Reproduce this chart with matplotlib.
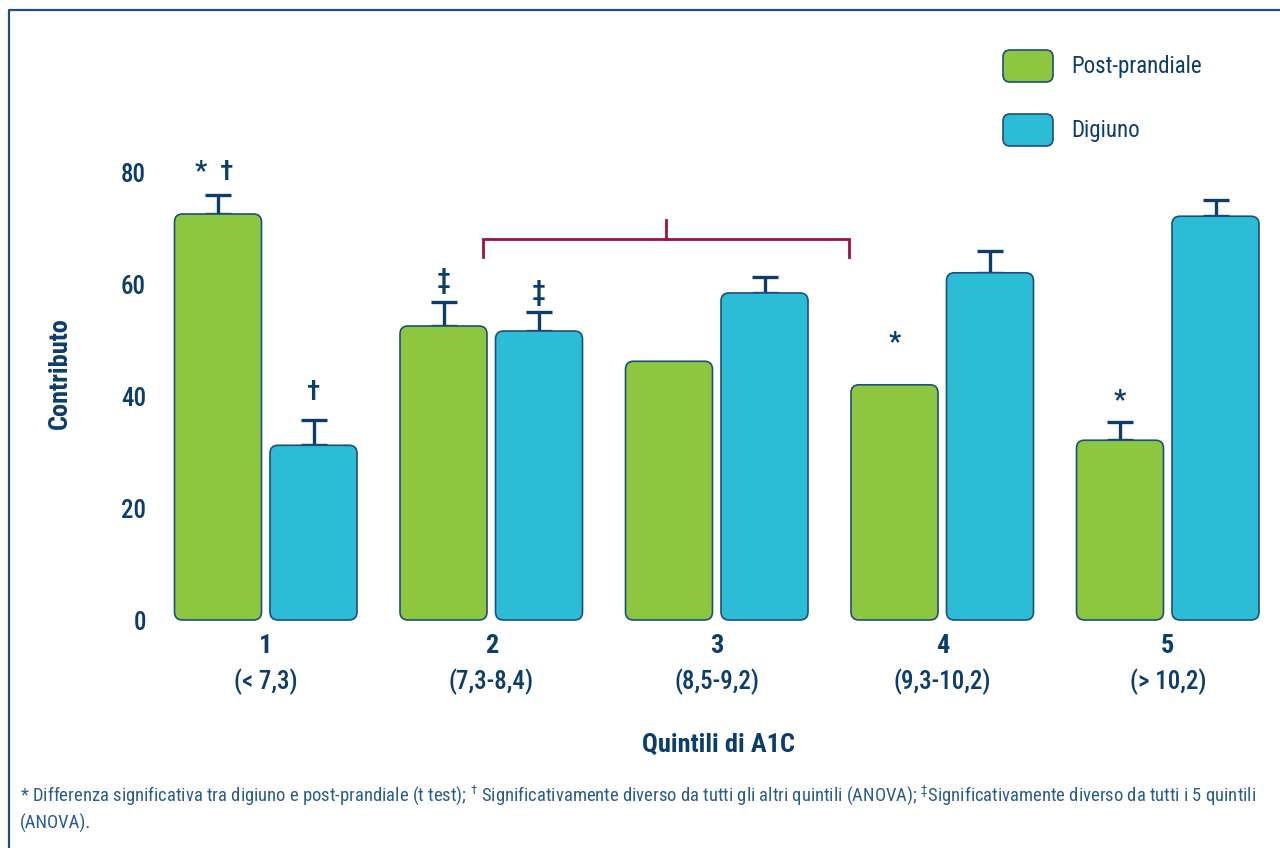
import matplotlib

matplotlib.use("Agg")
import matplotlib.pyplot as plt
from matplotlib.patches import FancyBboxPatch

plt.rcParams["font.family"] = ["Roboto Condensed", "DejaVu Sans"]
plt.rcParams["mathtext.fontset"] = "custom"
plt.rcParams["mathtext.rm"] = "Roboto Condensed"

quintiles = ["1", "2", "3", "4", "5"]
a1c_ranges = ["(< 7,3)", "(7,3-8,4)", "(8,5-9,2)", "(9,3-10,2)", "(> 10,2)"]
post_prandial = [72.5, 52.5, 46.2, 42.0, 32.1]
post_prandial_err = [3.4, 4.3, 0.0, 0.0, 3.3]
fasting = [31.2, 51.6, 58.4, 62.0, 72.1]
fasting_err = [4.6, 3.4, 2.9, 3.9, 2.9]
y_ticks = [0, 20, 40, 60, 80]
series_names = ["Post-prandiale", "Digiuno"]

NAVY = "#0c3d6c"
EDGE = "#1d4f7e"
GREEN = "#8dc63f"
CYAN = "#2cbcd6"
RED = "#a0123c"
NOTE = "#2a5c8c"

# pixel geometry of the plot (figure is 1280 x 848 px)
X0, DX = 265.75, 225.5      # px of group 0 centre, px per group
Y0, DY = 620.0, 5.6         # px of value 0, px per unit
BAR_W = 87 / DX
OFFSET = 95.5 / 2 / DX

fig = plt.figure(figsize=(12.8, 8.48), dpi=100)

# overlay in pixel coordinates for frame, legend, labels and footnote
over = fig.add_axes([0, 0, 1, 1])
over.set_xlim(0, 1280)
over.set_ylim(848, 0)
over.axis("off")

left, right, top, bottom = 160, 1275, 30, 640
ax = fig.add_axes([left / 1280, (848 - bottom) / 848,
                   (right - left) / 1280, (bottom - top) / 848])
ax.set_xlim((left - X0) / DX, (right - X0) / DX)
ax.set_ylim((Y0 - bottom) / DY, (Y0 - top) / DY)
ax.patch.set_visible(False)
for s in ax.spines.values():
    s.set_visible(False)

groups = list(range(len(quintiles)))
aspect = (1 / DY) / (1 / DX)
for k, (vals, errs, col) in enumerate([(post_prandial, post_prandial_err, GREEN),
                                       (fasting, fasting_err, CYAN)]):
    xs = [g + (2 * k - 1) * OFFSET for g in groups]
    bars = ax.bar(xs, vals, width=BAR_W, color=col)
    # swap the plain rectangles for rounded ones of the same size
    for rect in bars:
        rect.set_visible(False)
        ax.add_patch(FancyBboxPatch(
            (rect.get_x(), rect.get_y()), rect.get_width(), rect.get_height(),
            boxstyle=f"round,pad=0,rounding_size={8 / DX}",
            mutation_aspect=aspect, facecolor=col, edgecolor=EDGE,
            linewidth=1.2, zorder=2))
    ex = [x for x, e in zip(xs, errs) if e > 0]
    ev = [v for v, e in zip(vals, errs) if e > 0]
    ee = [e for e in errs if e > 0]
    ax.errorbar(ex, ev, yerr=[[0] * len(ee), ee], fmt="none", ecolor=NAVY,
                elinewidth=2.4, capsize=9.5, capthick=2.4, zorder=1)

# significance marks: (group, series, text, gap above the bar in px)
marks = [(0, 0, "*  †", 22), (0, 1, "†", 27), (1, 0, "‡", 21),
         (1, 1, "‡", 20), (3, 0, "*", 42), (4, 0, "*", 21)]
for g, k, txt, gap in marks:
    vals, errs = [(post_prandial, post_prandial_err), (fasting, fasting_err)][k]
    ax.text(g + (2 * k - 1) * OFFSET - (0.015 if txt.startswith("*  ") else 0),
            vals[g] + errs[g] + gap / DY, txt, ha="center", va="center",
            fontsize=20, fontweight="medium", color=NAVY, zorder=3)

# bracket over quintiles 2-4
bx0, bx1 = (483 - X0) / DX, (849 - X0) / DX
by, byl, byh = (Y0 - 239) / DY, (Y0 - 257) / DY, (Y0 - 220) / DY
bm = (666 - X0) / DX
ax.plot([bx0, bx0, bx1, bx1], [byl, by, by, byl], color=RED, lw=2.0,
        solid_joinstyle="miter", zorder=3)
ax.plot([bm, bm], [by, byh], color=RED, lw=2.0, zorder=3)

ax.set_yticks(y_ticks)
ax.set_yticklabels([str(t) for t in y_ticks], fontsize=18, fontweight="medium",
                   color=NAVY)
ax.tick_params(axis="y", length=0, pad=10)
ax.set_xticks([])
for g in groups:
    ax.text(g, (Y0 - 646) / DY, quintiles[g], ha="center", va="center",
            fontsize=19, fontweight="bold", color=NAVY, clip_on=False)
    ax.text(g, (Y0 - 682) / DY, a1c_ranges[g], ha="center", va="center",
            fontsize=18, fontweight="medium", color=NAVY, clip_on=False)

# frame
over.plot([9, 9, 1280], [848, 10, 10], color=EDGE, lw=1.6)

# legend
for i, (name, col) in enumerate(zip(series_names, [GREEN, CYAN])):
    yc = 66 + i * 64
    over.add_patch(FancyBboxPatch((1003, yc - 16), 50, 32,
                                  boxstyle="round,pad=0,rounding_size=7",
                                  facecolor=col, edgecolor=EDGE, linewidth=1.2))
    over.text(1071, yc, name, ha="left", va="center", fontsize=16.5, color=NAVY)

over.text(60, 373, "Contributo", rotation=90, ha="center", va="center",
          fontsize=19, fontweight="bold", color=NAVY)
over.text(718, 745, "Quintili di A1C", ha="center", va="center",
          fontsize=19, fontweight="bold", color=NAVY)

over.text(20, 796,
          "* Differenza significativa tra digiuno e post-prandiale (t test); "
          "$^{†}$ Significativamente diverso da tutti gli altri quintili (ANOVA); "
          "$^{‡}$Significativamente diverso da tutti i 5 quintili",
          ha="left", va="center", fontsize=13.4, color=NOTE)
over.text(20, 823, "(ANOVA).", ha="left", va="center", fontsize=13.4, color=NOTE)

fig.savefig("out.png", dpi=100)
